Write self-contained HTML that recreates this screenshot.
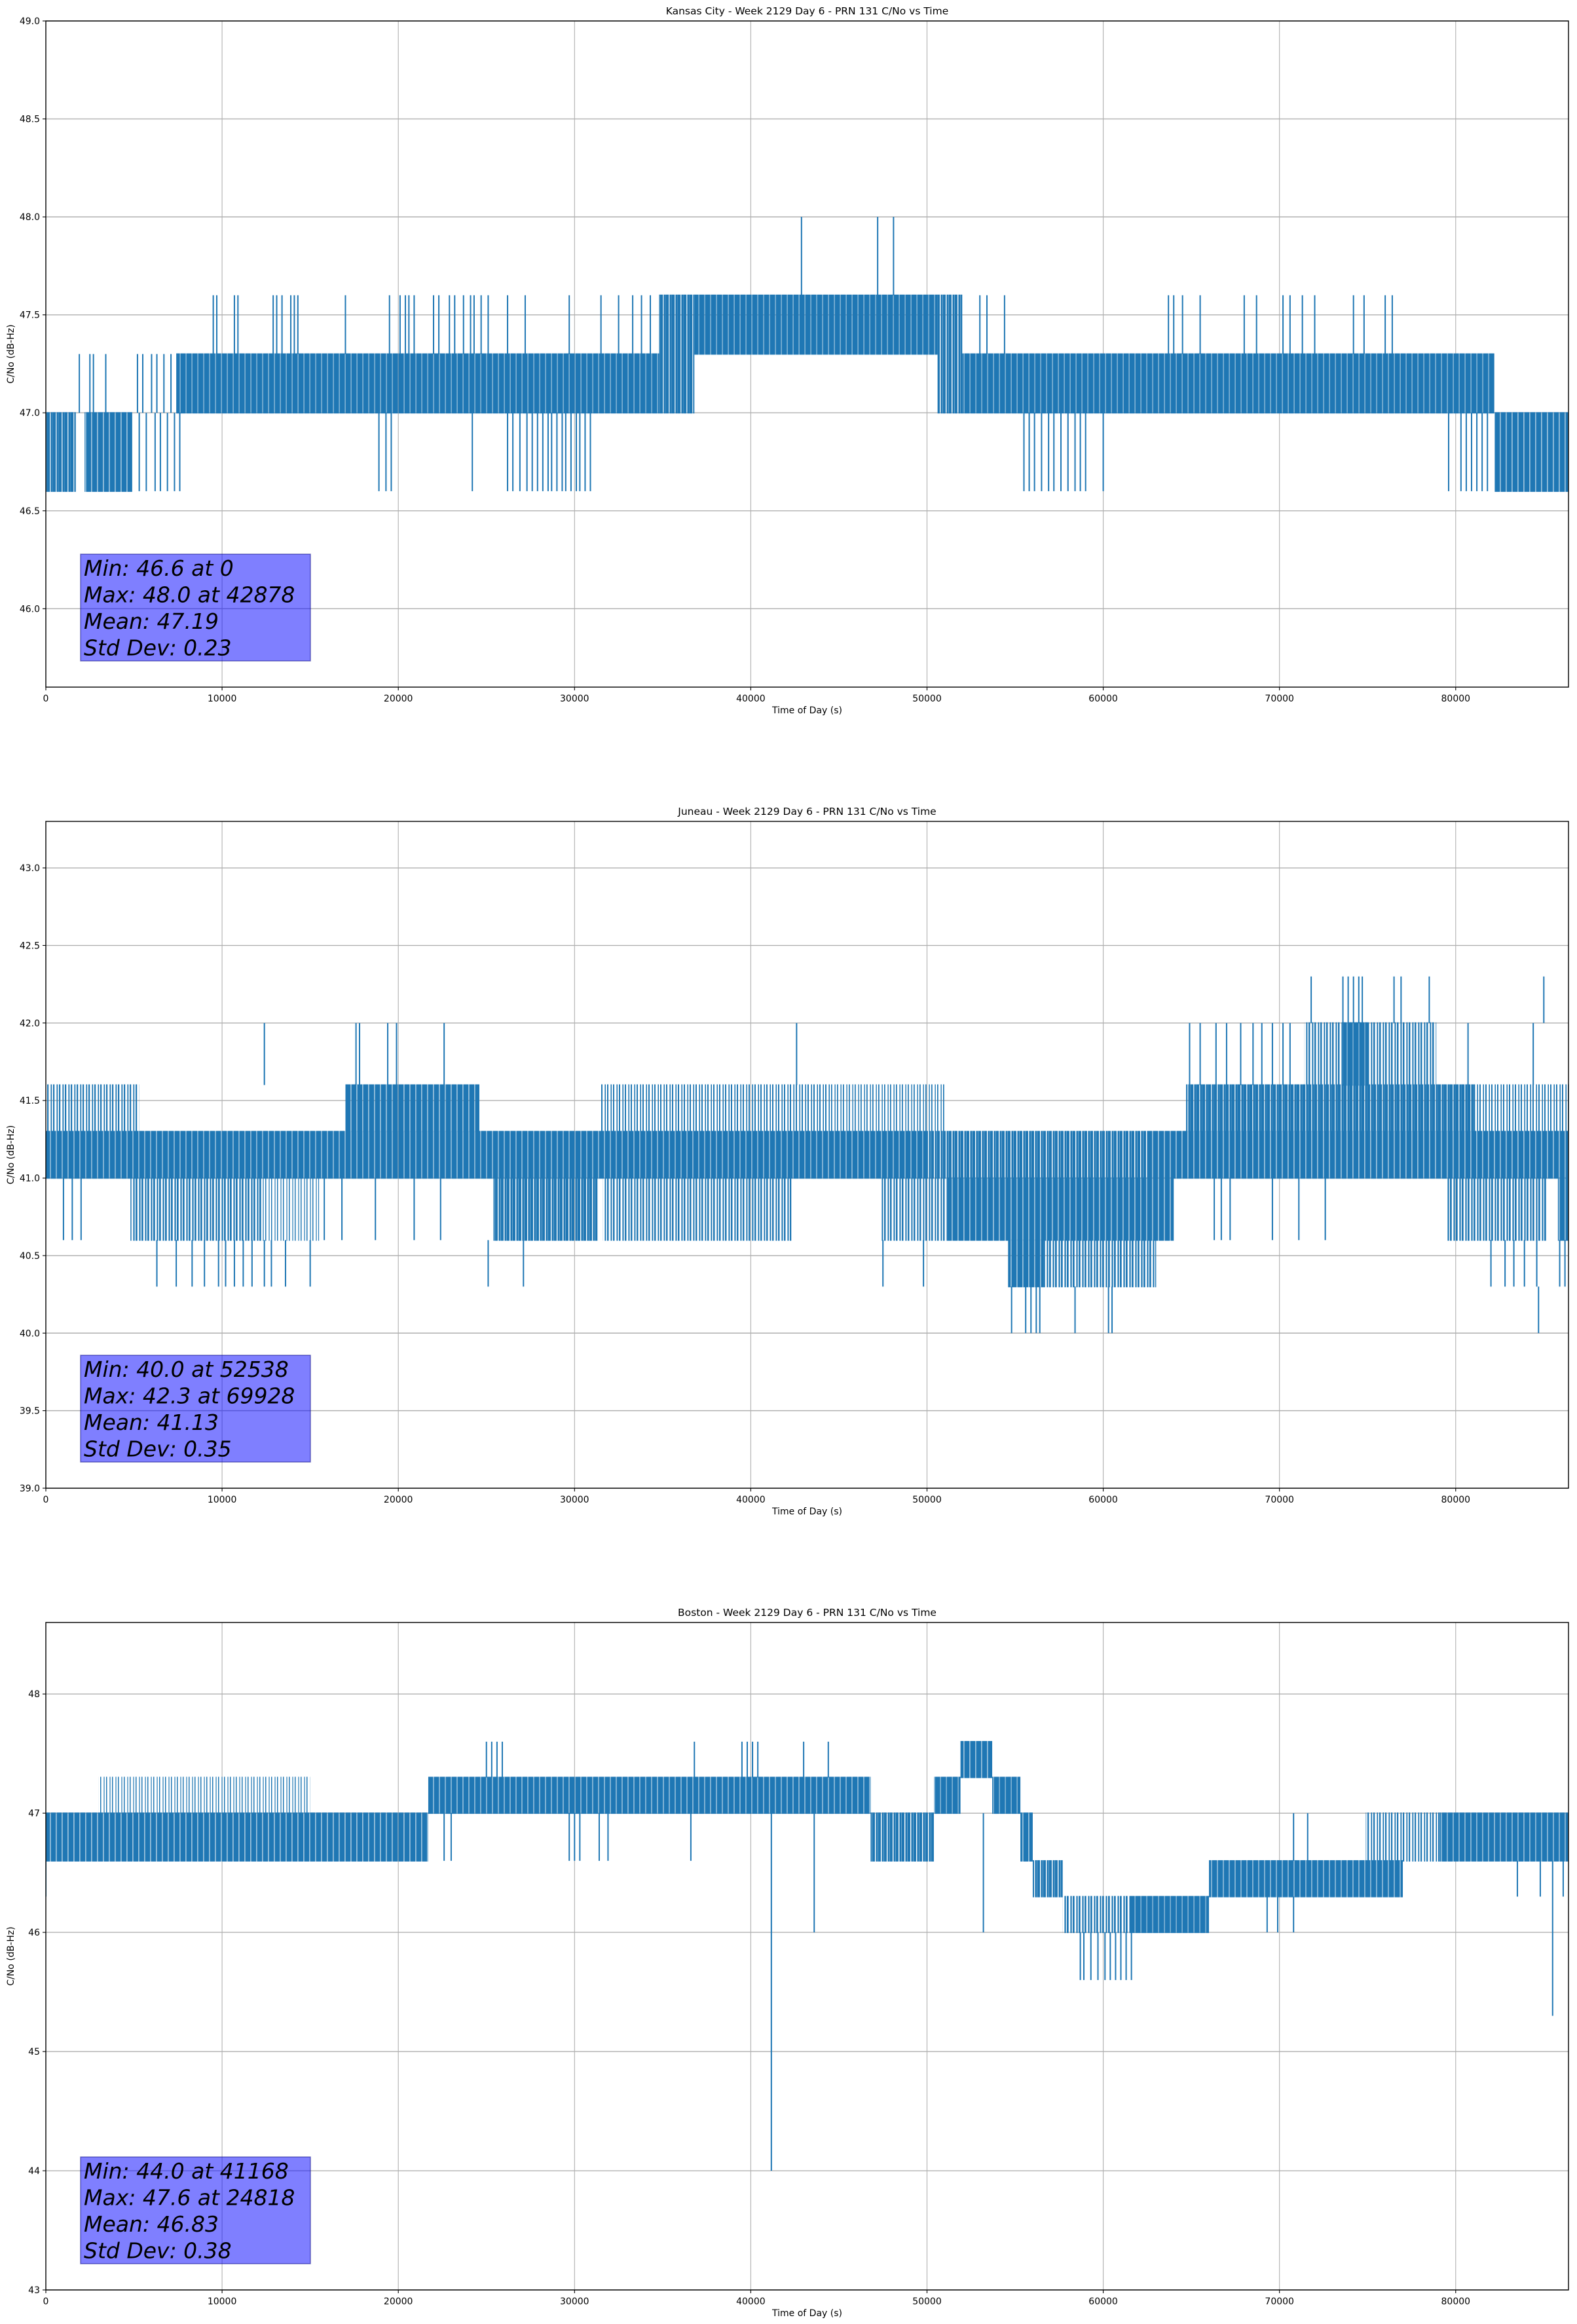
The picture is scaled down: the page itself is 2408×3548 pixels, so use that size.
<!DOCTYPE html>
<html><head><meta charset="utf-8"><title>PRN 131 C/No vs Time</title>
<style>
html,body{margin:0;padding:0;background:#fff;}
svg{display:block;font-family:"DejaVu Sans","Liberation Sans",sans-serif;}
</style></head>
<body>
<svg id="fig" width="2408" height="3548" viewBox="0 0 2408 3548" xmlns="http://www.w3.org/2000/svg"><defs id="defs"></defs></svg>
<script>
// ---------- Kansas City ----------
const kcYTicks = [46.0,46.5,47.0,47.5,48.0,48.5,49.0];
const kcBandStart = [0,2200,7400,34800,36800,50600,52000,82200];
const kcBandEnd   = [1700,4900,34800,36800,50600,52000,82200,86400];
const kcBandLow   = [46.6,46.6,47.0,47.0,47.3,47.0,47.0,46.6];
const kcBandHigh  = [47.0,47.0,47.3,47.6,47.6,47.6,47.3,47.0];
const kcBandDensity = [0.85,0.9,0.95,0.85,0.95,0.8,0.95,0.9];
const kcSpikeX = [1900,2500,2700,3400,5200,5500,6000,6300,6700,7100,
  5300,5700,6200,6500,6900,7300,7600,
  9500,9700,10700,10900,12900,13100,13400,13900,14100,14300,17000,19500,20100,20400,20600,20900,22000,22300,22900,23200,23700,24100,24300,24700,25100,26200,27200,29700,31500,32500,33300,33800,34300,53000,53400,54400,63700,64000,64500,65500,68000,68700,70200,70600,71300,72000,74200,74800,76000,76400,
  42878,47200,48100,
  18900,19300,19600,24200,26200,26500,26900,27300,27600,27900,28200,28500,28700,29000,29300,29500,29800,30100,30300,30600,30900,55500,55800,56100,56500,56900,57200,57600,58000,58400,58700,59000,60000,79600,80300,80600,80900,81200,81500,81800];
const kcSpikeLow = [47.0,47.0,47.0,47.0,47.0,47.0,47.0,47.0,47.0,47.0,
  46.6,46.6,46.6,46.6,46.6,46.6,46.6,
  47.3,47.3,47.3,47.3,47.3,47.3,47.3,47.3,47.3,47.3,47.3,47.3,47.3,47.3,47.3,47.3,47.3,47.3,47.3,47.3,47.3,47.3,47.3,47.3,47.3,47.3,47.3,47.3,47.3,47.3,47.3,47.3,47.3,47.3,47.3,47.3,47.3,47.3,47.3,47.3,47.3,47.3,47.3,47.3,47.3,47.3,47.3,47.3,47.3,47.3,
  47.6,47.6,47.6,
  46.6,46.6,46.6,46.6,46.6,46.6,46.6,46.6,46.6,46.6,46.6,46.6,46.6,46.6,46.6,46.6,46.6,46.6,46.6,46.6,46.6,46.6,46.6,46.6,46.6,46.6,46.6,46.6,46.6,46.6,46.6,46.6,46.6,46.6,46.6,46.6,46.6,46.6,46.6,46.6];
const kcSpikeHigh = [47.3,47.3,47.3,47.3,47.3,47.3,47.3,47.3,47.3,47.3,
  47.0,47.0,47.0,47.0,47.0,47.0,47.0,
  47.6,47.6,47.6,47.6,47.6,47.6,47.6,47.6,47.6,47.6,47.6,47.6,47.6,47.6,47.6,47.6,47.6,47.6,47.6,47.6,47.6,47.6,47.6,47.6,47.6,47.6,47.6,47.6,47.6,47.6,47.6,47.6,47.6,47.6,47.6,47.6,47.6,47.6,47.6,47.6,47.6,47.6,47.6,47.6,47.6,47.6,47.6,47.6,47.6,47.6,
  48.0,48.0,48.0,
  47.0,47.0,47.0,47.0,47.0,47.0,47.0,47.0,47.0,47.0,47.0,47.0,47.0,47.0,47.0,47.0,47.0,47.0,47.0,47.0,47.0,47.0,47.0,47.0,47.0,47.0,47.0,47.0,47.0,47.0,47.0,47.0,47.0,47.0,47.0,47.0,47.0,47.0,47.0,47.0];
const kcStats = ["Min: 46.6 at 0","Max: 48.0 at 42878","Mean: 47.19","Std Dev: 0.23"];

// ---------- Juneau ----------
const jnYTicks = [39.0,39.5,40.0,40.5,41.0,41.5,42.0,42.5,43.0];
const jnBandStart = [0,50000,62500,0,17000,31500,44500,64700,81100,71400,73600,4800,12300,25400,31600,47400,51100,79500,85800,54600,56600];
const jnBandEnd   = [50000,62500,86400,5300,24600,44500,51000,81100,86400,78900,75000,12300,15500,31300,42300,51100,64000,85200,86400,56600,63000];
const jnBandLow   = [41.0,41.0,41.0,41.3,41.3,41.3,41.3,41.3,41.3,41.6,41.6,40.6,40.6,40.6,40.6,40.6,40.6,40.6,40.6,40.3,40.3];
const jnBandHigh  = [41.3,41.3,41.3,41.6,41.6,41.6,41.6,41.6,41.6,42.0,42.0,41.0,41.0,41.0,41.0,41.0,41.0,41.0,41.0,40.6,40.6];
const jnBandDensity = [0.92,0.8,0.9,0.45,0.9,0.4,0.35,0.85,0.4,0.5,0.95,0.55,0.3,0.8,0.5,0.5,0.9,0.55,0.9,0.9,0.55];
const jnSpikeX = [12400,17600,17800,19400,19900,22600,42600,64900,65500,66400,67000,67800,68500,69000,69600,70200,70600,80700,84400,
  71800,73600,73900,74200,74500,74700,76500,76900,78500,85000,
  6300,7400,8300,9000,9800,10200,10700,11200,11700,12400,12800,13600,15000,25100,27100,47500,49800,82000,82800,83300,83900,84600,85900,86200,
  54800,55600,55900,56200,56400,58400,60300,60500,84700,
  1000,1500,2000,15800,16800,18700,20900,22400,66300,66700,67200,69600,71100,72600];
const jnSpikeLow = [41.6,41.6,41.6,41.6,41.6,41.6,41.6,41.6,41.6,41.6,41.6,41.6,41.6,41.6,41.6,41.6,41.6,41.6,41.6,
  42.0,42.0,42.0,42.0,42.0,42.0,42.0,42.0,42.0,42.0,
  40.3,40.3,40.3,40.3,40.3,40.3,40.3,40.3,40.3,40.3,40.3,40.3,40.3,40.3,40.3,40.3,40.3,40.3,40.3,40.3,40.3,40.3,40.3,40.3,
  40.0,40.0,40.0,40.0,40.0,40.0,40.0,40.0,40.0,
  40.6,40.6,40.6,40.6,40.6,40.6,40.6,40.6,40.6,40.6,40.6,40.6,40.6,40.6];
const jnSpikeHigh = [42.0,42.0,42.0,42.0,42.0,42.0,42.0,42.0,42.0,42.0,42.0,42.0,42.0,42.0,42.0,42.0,42.0,42.0,42.0,
  42.3,42.3,42.3,42.3,42.3,42.3,42.3,42.3,42.3,42.3,
  40.6,40.6,40.6,40.6,40.6,40.6,40.6,40.6,40.6,40.6,40.6,40.6,40.6,40.6,40.6,40.6,40.6,40.6,40.6,40.6,40.6,40.6,40.6,40.6,
  40.3,40.3,40.3,40.3,40.3,40.3,40.3,40.3,40.3,
  41.0,41.0,41.0,41.0,41.0,41.0,41.0,41.0,41.0,41.0,41.0,41.0,41.0,41.0];
const jnStats = ["Min: 40.0 at 52538","Max: 42.3 at 69928","Mean: 41.13","Std Dev: 0.35"];

// ---------- Boston ----------
const bsYTicks = [43,44,45,46,47,48];
const bsBandStart = [0,3000,21700,46800,50400,51900,53700,55300,56000,57700,61500,66000,74900,79100];
const bsBandEnd   = [21700,15000,46800,50400,51900,53700,55300,56000,57700,61500,66000,77000,79100,86400];
const bsBandLow   = [46.6,47.0,47.0,46.6,47.0,47.3,47.0,46.6,46.3,46.0,46.0,46.3,46.6,46.6];
const bsBandHigh  = [47.0,47.3,47.3,47.0,47.3,47.6,47.3,47.0,46.6,46.3,46.3,46.6,47.0,47.0];
const bsBandDensity = [0.9,0.3,0.92,0.8,0.95,0.9,0.95,0.9,0.8,0.55,0.95,0.92,0.45,0.92];
const bsSpikeX = [25000,25300,25600,25900,36800,39500,39800,40100,40400,43000,44400,
  22600,23000,29700,30000,30300,31400,31900,36600,
  43600,41168,53200,
  58700,58900,59300,59700,60100,60400,60700,61000,61300,61600,
  69300,69900,70800,70800,71600,83500,84800,86100,85500,0];
const bsSpikeLow = [47.3,47.3,47.3,47.3,47.3,47.3,47.3,47.3,47.3,47.3,47.3,
  46.6,46.6,46.6,46.6,46.6,46.6,46.6,46.6,
  46.0,44.0,46.0,
  45.6,45.6,45.6,45.6,45.6,45.6,45.6,45.6,45.6,45.6,
  46.0,46.0,46.0,46.6,46.6,46.3,46.3,46.3,45.3,46.3];
const bsSpikeHigh = [47.6,47.6,47.6,47.6,47.6,47.6,47.6,47.6,47.6,47.6,47.6,
  47.0,47.0,47.0,47.0,47.0,47.0,47.0,47.0,
  47.0,47.0,47.0,
  46.0,46.0,46.0,46.0,46.0,46.0,46.0,46.0,46.0,46.0,
  46.3,46.3,46.3,47.0,47.0,46.6,46.6,46.6,46.6,47.0];
const bsStats = ["Min: 44.0 at 41168","Max: 47.6 at 24818","Mean: 46.83","Std Dev: 0.38"];

const xTicks = [0,10000,20000,30000,40000,50000,60000,70000,80000];

const NS = "http://www.w3.org/2000/svg";
const svg = document.getElementById('fig');
const defs = document.getElementById('defs');
function mk(tag, attrs, parent){
  const e = document.createElementNS(NS, tag);
  for (const k in attrs) e.setAttribute(k, attrs[k]);
  (parent||svg).appendChild(e);
  return e;
}
const patCache = {};
function stripeFill(d){
  const key = Math.round(d*100);
  if (!patCache[key]){
    const id = 'stripe' + key;
    const P = 9;
    const p = mk('pattern', {id:id, patternUnits:'userSpaceOnUse', width:P, height:20}, defs);
    const w = Math.max(1.5, d*P);
    mk('rect', {x:0, y:0, width:w*0.55, height:20, fill:'#1f77b4'}, p);
    mk('rect', {x:P*0.6, y:0, width:w*0.45, height:20, fill:'#1f77b4'}, p);
    patCache[key] = 'url(#' + id + ')';
  }
  return patCache[key];
}
const L = 70, R = 2395, XMAX = 86400;
function xScale(t){ return L + (t / XMAX) * (R - L); }

function drawChart(key, title, top, bottom, ymin, ymax, yTicks, fmt,
                   bS, bE, bL, bH, bD, sX, sL, sH, stats){
  const y = v => bottom - (v - ymin) / (ymax - ymin) * (bottom - top);
  const g = mk('g', {});
  
  
  xTicks.forEach(t => {
    const ln = mk('line', {x1:xScale(t), x2:xScale(t), y1:top, y2:bottom, stroke:'#b0b0b0', 'stroke-width':1.1}, g);
    
    
  });
  yTicks.forEach(v => {
    const ln = mk('line', {x1:L, x2:R, y1:y(v), y2:y(v), stroke:'#b0b0b0', 'stroke-width':1.4}, g);
    
    
  });
  const cp = mk('clipPath', {id:'clip-'+key}, g);
  mk('rect', {x:L, y:top, width:R-L, height:bottom-top}, cp);
  const data = mk('g', {'clip-path':'url(#clip-'+key+')'}, g);
  
  
  for (let i=0;i<bS.length;i++){
    const r = mk('rect', {x:xScale(bS[i]), y:y(bH[i])-1, width:Math.max(2, xScale(bE[i])-xScale(bS[i])), height:y(bL[i])-y(bH[i])+2, fill: bD[i] >= 0.99 ? '#1f77b4' : stripeFill(bD[i])}, data);
    
    
  }
  for (let i=0;i<sX.length;i++){
    const ln = mk('line', {x1:xScale(sX[i]), x2:xScale(sX[i]), y1:y(sL[i]), y2:y(sH[i]), stroke:'#1f77b4', 'stroke-width':2}, data);
    
    
  }
  const fr = mk('rect', {x:L, y:top, width:R-L, height:bottom-top, fill:'none', stroke:'#000', 'stroke-width':1.4}, g);
  
  
  xTicks.forEach(t => {
    mk('line', {x1:xScale(t), x2:xScale(t), y1:bottom, y2:bottom+5, stroke:'#000', 'stroke-width':1.1}, g);
    const tx = mk('text', {x:xScale(t), y:bottom+22, 'font-size':14, 'text-anchor':'middle', fill:'#000'}, g);
    tx.textContent = String(t);
    
    
  });
  yTicks.forEach(v => {
    mk('line', {x1:L-5, x2:L, y1:y(v), y2:y(v), stroke:'#000', 'stroke-width':1.1}, g);
    const tx = mk('text', {x:L-9, y:y(v)+5, 'font-size':14, 'text-anchor':'end', fill:'#000'}, g);
    tx.textContent = fmt(v);
    
    
  });
  const tt = mk('text', {x:(L+R)/2, y:top-10, 'font-size':15.5, 'text-anchor':'middle', fill:'#000'}, g);
  tt.textContent = title;
  
  
  const xl = mk('text', {x:(L+R)/2, y:bottom+40, 'font-size':14, 'text-anchor':'middle', fill:'#000'}, g);
  xl.textContent = 'Time of Day (s)';
  
  
  const cy = (top+bottom)/2;
  const yl = mk('text', {x:21, y:cy, 'font-size':14, 'text-anchor':'middle', fill:'#000', transform:'rotate(-90 21 '+cy+')'}, g);
  yl.textContent = 'C/No (dB-Hz)';
  
  
  const bTop = bottom - 203;
  const sb = mk('g', {}, g);
  
  
  mk('rect', {x:123, y:bTop, width:351, height:163, fill:'#0000ff', 'fill-opacity':0.5, stroke:'#00007f', 'stroke-opacity':0.5, 'stroke-width':1.5}, sb);
  stats.forEach((s, i) => {
    const tx = mk('text', {x:128, y:bTop + 33 + i*40.5, 'font-size':33, 'font-style':'italic', fill:'#000'}, sb);
    tx.textContent = s;
    
    
  });
}
const f1 = v => v.toFixed(1);
const f0 = v => String(Math.round(v));
drawChart('kansas-city', 'Kansas City - Week 2129 Day 6 - PRN 131 C/No vs Time', 32, 1049, 45.6, 49.0, kcYTicks, f1,
  kcBandStart, kcBandEnd, kcBandLow, kcBandHigh, kcBandDensity, kcSpikeX, kcSpikeLow, kcSpikeHigh, kcStats);
drawChart('juneau', 'Juneau - Week 2129 Day 6 - PRN 131 C/No vs Time', 1254, 2272, 39.0, 43.3, jnYTicks, f1,
  jnBandStart, jnBandEnd, jnBandLow, jnBandHigh, jnBandDensity, jnSpikeX, jnSpikeLow, jnSpikeHigh, jnStats);
drawChart('boston', 'Boston - Week 2129 Day 6 - PRN 131 C/No vs Time', 2477, 3496, 43.0, 48.6, bsYTicks, f0,
  bsBandStart, bsBandEnd, bsBandLow, bsBandHigh, bsBandDensity, bsSpikeX, bsSpikeLow, bsSpikeHigh, bsStats);
</script>
</body></html>
